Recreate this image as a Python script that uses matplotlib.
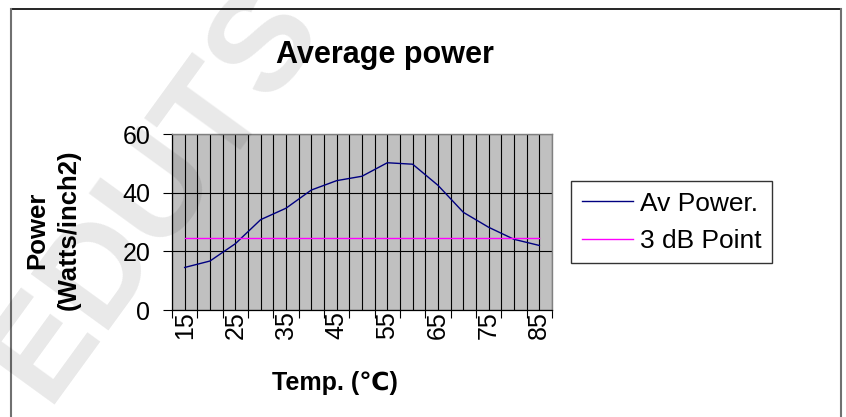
import matplotlib
matplotlib.use("Agg")
import matplotlib.pyplot as plt
from matplotlib.lines import Line2D
import numpy as np

temps = [15, 20, 25, 30, 35, 40, 45, 50, 55, 60, 65, 70, 75, 80, 85]
av_power = [14.5, 16.7, 22.6, 30.8, 34.7, 40.9, 44.1, 45.6, 50.2, 49.7, 42.5, 33.3, 28.2, 24.1, 22.0]
point_3db = [24.7] * len(temps)
tick_labels = [str(t) if i % 2 == 0 else "" for i, t in enumerate(temps)]

W, H = 846, 417
plt.rcParams["font.family"] = ["Liberation Sans", "DejaVu Sans"]

fig = plt.figure(figsize=(W / 100, H / 100), dpi=100)
fig.patch.set_facecolor("white")

def fx(px):
    return px / W

def fy(py):
    return 1 - py / H

# chart border (Excel chart area)
fig.add_artist(Line2D([fx(11), fx(841)], [fy(9), fy(9)], color="black", lw=1.2))
fig.add_artist(Line2D([fx(11), fx(11)], [fy(9), 0], color="#707070", lw=1.5))
fig.add_artist(Line2D([fx(841), fx(841)], [fy(9), 0], color="#707070", lw=1.5))

ax = fig.add_axes([fx(172), fy(310), fx(552) - fx(172), fy(134) - fy(310)])
ax.set_facecolor("#C0C0C0")

x = np.arange(len(temps))
ax.plot(x, av_power, color="#000080", lw=1, label="Av Power.", zorder=3)
ax.plot(x, point_3db, color="#FF00FF", lw=1, label="3 dB Point", zorder=3)

ax.set_xlim(-0.5, len(temps) - 0.5)
ax.set_ylim(0, 60)

# category boundaries as major ticks, centres as minor ticks with labels
ax.set_xticks(np.arange(-0.5, len(temps), 1.0))
ax.set_xticklabels([])
ax.set_xticks(x, minor=True)
ax.set_xticklabels(tick_labels, minor=True, rotation=90, fontsize=18)
ax.tick_params(axis="x", which="major", length=6, width=0.8, direction="out")
ax.tick_params(axis="x", which="minor", length=0, pad=1)
ax.set_yticks([0, 20, 40, 60])
ax.tick_params(axis="y", length=6.5, width=0.8, labelsize=18, pad=9)

ax.grid(True, axis="x", which="both", color="black", lw=0.8, zorder=1)
ax.grid(True, axis="y", which="major", color="black", lw=0.8, zorder=1)
ax.set_axisbelow(True)

for s in ["left", "bottom"]:
    ax.spines[s].set_color("black")
    ax.spines[s].set_linewidth(0.9)
for s in ["top", "right"]:
    ax.spines[s].set_color("#808080")
    ax.spines[s].set_linewidth(1.0)

fig.text(fx(385), fy(55), "Average power", ha="center", va="center",
         fontsize=22, fontweight="bold")
fig.text(fx(335), fy(383), "Temp. (\u2103)", ha="center", va="center",
         fontsize=18, fontweight="bold")
fig.text(fx(53), fy(230), "Power\n(Watts/inch2)", ha="center", va="center",
         rotation=90, fontsize=18.5, fontweight="bold", multialignment="center",
         linespacing=1.35)

leg = ax.legend(loc="upper left", bbox_to_anchor=(fx(571), fy(181)),
                bbox_transform=fig.transFigure, fontsize=19, frameon=True,
                fancybox=False, edgecolor="black", handlelength=1.95,
                handletextpad=0.25, labelspacing=0.5, borderpad=0.4,
                borderaxespad=0)
leg.get_frame().set_linewidth(1.0)

# faint watermark
fig.text(fx(155), fy(193), "EDUTS", ha="center", va="center", rotation=54,
         fontsize=100, fontweight="bold", color="black", alpha=0.09, zorder=10)

fig.savefig("out.png", dpi=100)
